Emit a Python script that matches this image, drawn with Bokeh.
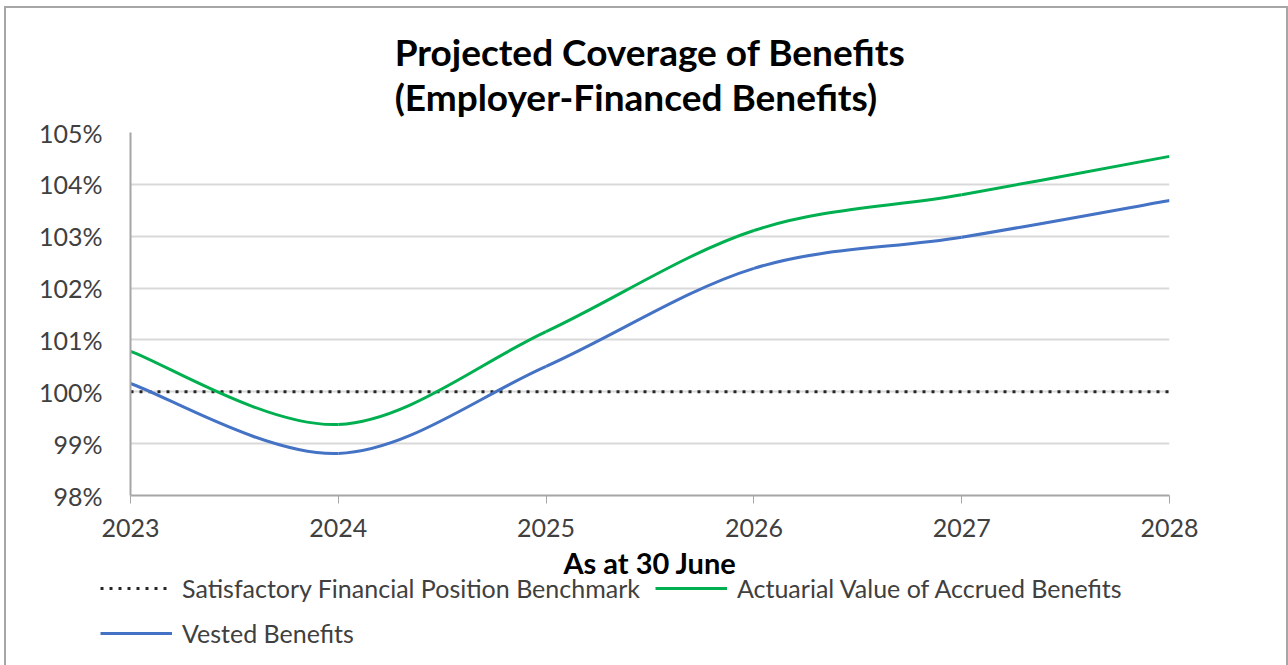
from bokeh.plotting import figure
from bokeh.layouts import column
from bokeh.models import (Range1d, FixedTicker, Legend, LegendItem, Title,
                          ColumnDataSource)
from bokeh.embed import file_html
from bokeh.resources import INLINE

# ---- data ----
years = [2023, 2024, 2025, 2026, 2027, 2028]
accrued = [100.78, 99.37, 101.16, 103.11, 103.80, 104.54]
vested = [100.16, 98.81, 100.49, 102.38, 102.98, 103.69]
benchmark = [100, 100, 100, 100, 100, 100]
y_ticks = [98, 99, 100, 101, 102, 103, 104, 105]
x_ticks = years
title_lines = ["Projected Coverage of Benefits", "(Employer-Financed Benefits)"]
series_names = ["Satisfactory Financial Position Benchmark",
                "Actuarial Value of Accrued Benefits", "Vested Benefits"]

FONT = "Lato"
GREEN = "#00b050"
BLUE = "#4472c4"
BENCH = "#262626"


def smooth(xs, ys):
    """Cubic Bezier segments (Catmull-Rom style, like spreadsheet smoothing)."""
    n = len(xs)
    d = dict(x0=[], y0=[], x1=[], y1=[], cx0=[], cy0=[], cx1=[], cy1=[])
    for i in range(n - 1):
        a = i - 1 if i > 0 else i
        b = i + 2 if i + 2 < n else i + 1
        d["x0"].append(xs[i]); d["y0"].append(ys[i])
        d["x1"].append(xs[i + 1]); d["y1"].append(ys[i + 1])
        d["cx0"].append(xs[i] + (xs[i + 1] - xs[a]) / 6)
        d["cy0"].append(ys[i] + (ys[i + 1] - ys[a]) / 6)
        d["cx1"].append(xs[i + 1] - (xs[b] - xs[i]) / 6)
        d["cy1"].append(ys[i + 1] - (ys[b] - ys[i]) / 6)
    return ColumnDataSource(d)


p = figure(width=1280, height=580, output_backend="svg", toolbar_location=None,
           x_range=Range1d(years[0], years[-1]), y_range=Range1d(y_ticks[0], y_ticks[-1]),
           min_border_left=124, min_border_right=117, min_border_top=124,
           min_border_bottom=93, title=None)
p.frame_align = False
p.outline_line_color = None
p.background_fill_color = "white"
p.border_fill_color = "white"

p.add_layout(Title(text="\n".join(title_lines), align="center",
                   text_font=FONT, text_font_size="37px", text_font_style="bold",
                   text_color="black", text_line_height=1.0, standoff=28), "above")

# axes
p.xaxis.ticker = FixedTicker(ticks=x_ticks)
p.xaxis.major_label_overrides = {y: str(y) for y in x_ticks}
p.xaxis.axis_label = "As at 30 June"
p.xaxis.axis_label_text_font = FONT
p.xaxis.axis_label_text_font_size = "29px"
p.xaxis.axis_label_text_font_style = "bold"
p.xaxis.axis_label_text_color = "black"
p.xaxis.axis_label_standoff = 5
p.xaxis.major_label_text_font = FONT
p.xaxis.major_label_text_font_size = "25px"
p.xaxis.major_label_text_color = "#404040"
p.xaxis.major_label_standoff = 15
p.xaxis.major_tick_out = 8
p.xaxis.major_tick_in = 0
p.xaxis.minor_tick_out = 0
p.xaxis.minor_tick_in = 0
p.xaxis.axis_line_color = "#a6a6a6"
p.xaxis.major_tick_line_color = "#a6a6a6"
p.xaxis.axis_line_width = 2

p.yaxis.ticker = FixedTicker(ticks=y_ticks)
p.yaxis.major_label_overrides = {v: f"{v}%" for v in y_ticks}
p.yaxis.major_label_text_font = FONT
p.yaxis.major_label_text_font_size = "25px"
p.yaxis.major_label_text_color = "#404040"
p.yaxis.major_label_standoff = 28
p.yaxis.major_tick_out = 0
p.yaxis.major_tick_in = 0
p.yaxis.minor_tick_out = 0
p.yaxis.minor_tick_in = 0
p.yaxis.axis_line_color = "#a6a6a6"
p.yaxis.axis_line_width = 2

p.xgrid.grid_line_color = None
p.ygrid.grid_line_color = "#d9d9d9"
p.ygrid.grid_line_width = 2

# benchmark
p.line(years, benchmark, line_color=BENCH, line_width=3, line_dash="3 6")
# smoothed curves
p.bezier(x0="x0", y0="y0", x1="x1", y1="y1", cx0="cx0", cy0="cy0", cx1="cx1",
         cy1="cy1", source=smooth(years, vested), line_color=BLUE, line_width=3)
p.bezier(x0="x0", y0="y0", x1="x1", y1="y1", cx0="cx0", cy0="cy0", cx1="cx1",
         cy1="cy1", source=smooth(years, accrued), line_color=GREEN, line_width=3)

# ---- legend strip (separate figure below the chart) ----
pl = figure(width=1280, height=100, output_backend="svg", toolbar_location=None,
            x_range=Range1d(0, 1), y_range=Range1d(0, 1), min_border=0,
            x_axis_location=None, y_axis_location=None, title=None)
pl.frame_align = False
pl.grid.visible = False
pl.outline_line_color = None
pl.background_fill_alpha = 0
pl.border_fill_alpha = 0
pl.styles = {"margin-top": "-20px"}

# legend proxies, kept outside the visible range
r_bench = pl.line(x=[-5, -4], y=[-5, -5], line_color=BENCH, line_width=3, line_dash="3 6")
r_green = pl.line(x=[-5, -4], y=[-5, -5], line_color=GREEN, line_width=3)
r_blue = pl.line(x=[-5, -4], y=[-5, -5], line_color=BLUE, line_width=3)

legend = Legend(items=[
    LegendItem(label=series_names[0], renderers=[r_bench]),
    LegendItem(label=series_names[1], renderers=[r_green]),
    LegendItem(label=series_names[2], renderers=[r_blue]),
], orientation="horizontal", ncols=2, location=(94, 20),
    label_text_font=FONT, label_text_font_size="25px", label_text_color="#404040",
    glyph_width=72, glyph_height=20, label_standoff=10, label_height=20,
    spacing=15, padding=0, margin=0, background_fill_alpha=0,
    border_line_alpha=0)
pl.add_layout(legend, "center")

layout = column(p, pl, spacing=0,
                styles={"border": "2px solid #a6a6a6", "margin-left": "4px",
                        "margin-top": "6px", "background-color": "white"})

open("out.html", "w").write(file_html(layout, INLINE))
